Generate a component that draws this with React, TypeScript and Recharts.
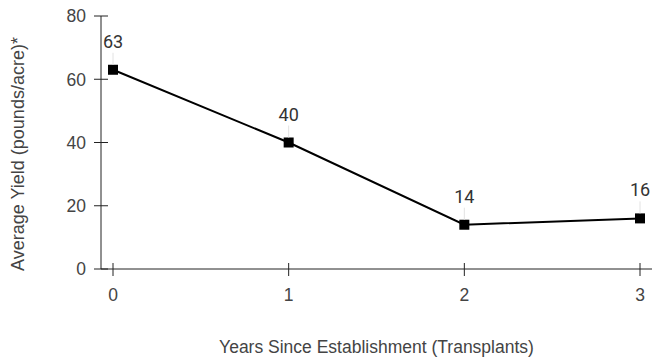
import { Label, Line, LineChart, XAxis, YAxis } from 'recharts';

const years = ['0', '1', '2', '3'];
const yieldValues = [63, 40, 14, 16];
const yTicks = [0, 20, 40, 60, 80];

const chartData = years.map((year, i) => ({
  year: year,
  value: yieldValues[i],
}));

const FONT = '"Liberation Sans", Arial, sans-serif';
const TEXT = '#444';

// ticks cross the axis line on both sides
function XTick({ x, y, payload }: any) {
  return (
    <g>
      <line x1={x} x2={x} y1={y - 6} y2={y + 7} stroke="#222" strokeWidth={1} />
      <text x={x} y={y + 32} textAnchor="middle" fill={TEXT} fontSize={17.5} fontFamily={FONT}>
        {payload.value}
      </text>
    </g>
  );
}

function YTick({ x, y, payload }: any) {
  return (
    <g>
      <line x1={x - 7} x2={x + 7} y1={y} y2={y} stroke="#222" strokeWidth={1} />
      <text x={x - 15} y={y} dy="0.36em" textAnchor="end" fill={TEXT} fontSize={17.5} fontFamily={FONT}>
        {payload.value}
      </text>
    </g>
  );
}

function PointLabel({ x, y, value }: any) {
  return (
    <g>
      <line x1={x} x2={x} y1={y - 17} y2={y - 5} stroke="#e2e2e2" strokeWidth={1} />
      <text x={x} y={y - 22} textAnchor="middle" fill="#333" fontSize={18} fontFamily="Roboto, sans-serif">
        {value}
      </text>
    </g>
  );
}

function SquareDot({ cx, cy }: any) {
  return <rect x={cx - 5} y={cy - 5} width={10} height={10} fill="#000" />;
}

function YTitle() {
  return (
    <text
      x={18}
      y={154}
      transform="rotate(-90, 18, 154)"
      textAnchor="middle"
      dy="0.36em"
      fill={TEXT}
      fontSize={18}
      fontFamily={FONT}
    >
      Average Yield (pounds/acre)*
    </text>
  );
}

export default function App() {
  return (
    <div style={{ position: 'absolute', left: 0, top: 0, width: 652, height: 360 }}>
      <LineChart width={652} height={360} data={chartData} margin={{ top: 16, right: 0, left: 0, bottom: 0 }}>
        <XAxis
          dataKey="year"
          height={91}
          padding={{ left: 12, right: 12 }}
          axisLine={{ stroke: '#222' }}
          tickLine={false}
          tickSize={0}
          tickMargin={0}
          tick={<XTick />}
        >
          <Label
            value="Years Since Establishment (Transplants)"
            position="insideBottom"
            offset={7}
            style={{ fill: TEXT, fontSize: 17.5, fontFamily: FONT }}
          />
        </XAxis>
        <YAxis
          width={101}
          domain={[0, 80]}
          ticks={yTicks}
          axisLine={{ stroke: '#222' }}
          tickLine={false}
          tickSize={0}
          tickMargin={0}
          tick={<YTick />}
        >
          <Label content={<YTitle />} />
        </YAxis>
        <Line
          type="linear"
          dataKey="value"
          stroke="#000"
          strokeWidth={2}
          dot={<SquareDot />}
          activeDot={false}
          label={<PointLabel />}
          isAnimationActive={false}
        />
      </LineChart>
    </div>
  );
}
